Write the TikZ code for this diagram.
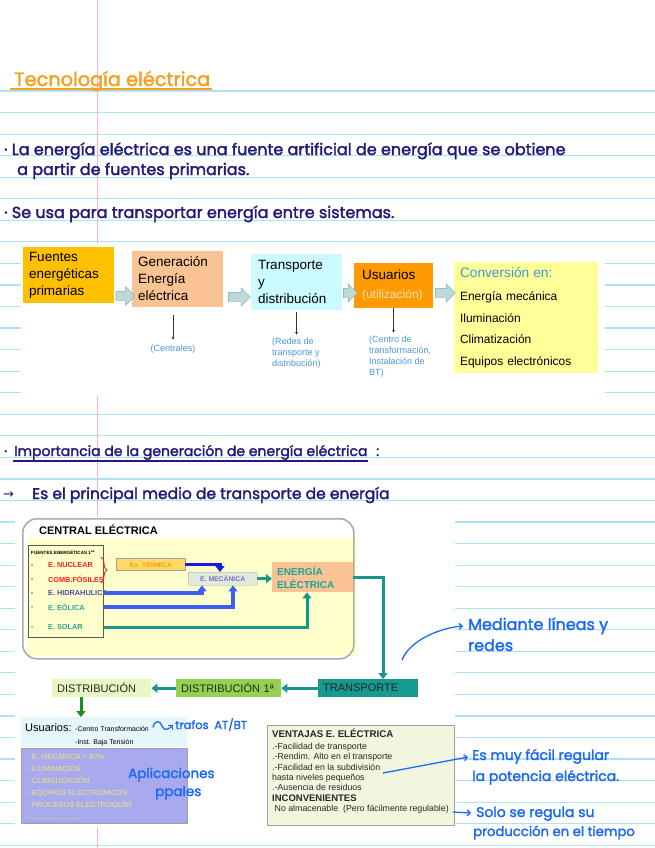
\documentclass[tikz,border=0pt]{standalone}
\usepackage{fontspec}
\setmainfont{Liberation Sans}
\newfontfamily\handfont{Poppins}[FakeBold=2]
\newfontfamily\symfont{DejaVu Sans}
\usepackage{tikz}
\usetikzlibrary{arrows.meta,calc,positioning,shapes.arrows,decorations.pathreplacing}
\definecolor{ink}{HTML}{221A78}
\definecolor{penblue}{HTML}{1C6AF2}
\definecolor{titleorange}{HTML}{F5A01E}
\definecolor{ruleblue}{HTML}{ADE1F8}
\definecolor{marginpink}{HTML}{F6B3C8}
\definecolor{amber}{HTML}{FFC000}
\definecolor{peach}{HTML}{FAC394}
\definecolor{paleaqua}{HTML}{CCFBFF}
\definecolor{usuorange}{HTML}{FF9A00}
\definecolor{utilcream}{HTML}{FDE3B8}
\definecolor{convyellow}{HTML}{FFFF99}
\definecolor{convblue}{HTML}{3C9AD0}
\definecolor{arrowfill}{HTML}{BCD9DC}
\definecolor{arrowgrey}{HTML}{8AA3A6}
\definecolor{noteblue}{HTML}{4A94DC}
\definecolor{centralgrey}{HTML}{ABABAB}
\definecolor{centralfill}{HTML}{FFFFCC}
\definecolor{nucred}{HTML}{FF1E1E}
\definecolor{hidrblue}{HTML}{4B4BAE}
\definecolor{eolteal}{HTML}{2BA598}
\definecolor{termfill}{HTML}{FFD966}
\definecolor{termtext}{HTML}{F0A020}
\definecolor{mecfill}{HTML}{E1EBDD}
\definecolor{mectext}{HTML}{7373C4}
\definecolor{energteal}{HTML}{1AA396}
\definecolor{termblue}{HTML}{1A1AE8}
\definecolor{hydroblue}{HTML}{3C5EF6}
\definecolor{flowteal}{HTML}{15978D}
\definecolor{transteal}{HTML}{16998E}
\definecolor{dist1green}{HTML}{93D150}
\definecolor{distgreen}{HTML}{E8F8C4}
\definecolor{downgreen}{HTML}{1E8C1E}
\definecolor{usucyan}{HTML}{E6F6FB}
\definecolor{lavender}{HTML}{A9A9F0}
\definecolor{appyellow}{HTML}{F0EA70}
\definecolor{ventfill}{HTML}{F3F6DF}
\definecolor{boxgrey}{HTML}{A0A0A0}

\begin{document}
\begin{tikzpicture}[x=1pt,y=-1pt,
    rule/.style={draw=ruleblue,line width=1.2pt},
    hand/.style={font=\handfont\fontsize{16}{18}\selectfont,text=ink,anchor=base west,inner sep=0pt},
    pen/.style={hand,font=\handfont\fontsize{14}{16}\selectfont,text=penblue},
    penline/.style={draw=penblue,line width=1.3pt,line cap=round,-{Straight Barb[length=3pt,width=6pt]}},
    flowbox/.style={anchor=north west,inner ysep=0pt,outer sep=0pt,align=left,font=\fontsize{13.5}{17}\selectfont},
    blockarr/.style={single arrow,draw=arrowgrey,fill=arrowfill,minimum width=0pt,inner xsep=0pt,inner ysep=4.5pt,single arrow head extend=4.5pt},
    note/.style={anchor=north west,inner sep=0pt,align=left,text=noteblue,font=\fontsize{9}{11}\selectfont},
    thinarr/.style={draw=black!80,line width=0.6pt,-{Latex[length=3pt,width=3pt]}},
    source/.style={anchor=west,inner sep=0pt,font=\bfseries\fontsize{7.3}{9}\selectfont},
    bluearr/.style={line width=3.3pt,-{Triangle[length=6pt,width=9pt]}},
    tealarr/.style={draw=flowteal,line width=3pt,-{Triangle[length=6pt,width=9pt]}},
    rowbox/.style={anchor=north west,minimum height=18pt,inner xsep=5pt,inner ysep=0pt,align=left,font=\fontsize{11}{13}\selectfont,text=black!85}]

  \useasboundingbox (0,0) rectangle (655,848);
  \fill[white] (0,0) rectangle (655,848);
  \foreach \i in {0,...,35}{
    \draw[rule] (0,91+21.55*\i) -- (655,91+21.55*\i);
  }
  \draw[marginpink,line width=1pt] (97,0) -- (97,848);
  \fill[white] (21,244) rectangle (605,396);
  \fill[white] (15,517) rectangle (455,827);

  % apuntes
  \node[hand,text=titleorange,font=\handfont\fontsize{19.3}{21}\selectfont] (title) at (14,86) {Tecnología eléctrica};
  \draw[titleorange,line width=1.1pt] ($(title.base west)+(-4,3)$) -- ($(title.base east)+(2,3)$);
  \node[hand] (intro1) at (4,155) {· La energía eléctrica es una fuente artificial de energía que se obtiene};
  \node[hand] (intro2) at (17,175) {a partir de fuentes primarias.};
  \node[hand] (uso) at (4,218) {· Se usa para transportar energía entre sistemas.};
  \node[hand,font=\handfont\fontsize{14}{16}\selectfont] (impdot) at (4,456) {·};
  \node[hand,font=\handfont\fontsize{14}{16}\selectfont] (imp) at (14,456) {Importancia de la generación de energía eléctrica};
  \node[hand,font=\handfont\fontsize{14}{16}\selectfont] (impcolon) at (376,456) {:};
  \draw[ink,line width=1.2pt] ($(imp.base west)+(-1,5)$) -- ($(imp.base east)+(0,5)$);
  \node[hand,font=\symfont\fontsize{13}{14}\selectfont] (medarrow) at (3,498) {→};
  \node[hand,font=\handfont\fontsize{15.5}{17}\selectfont] (medio) at (32,499) {Es el principal medio de transporte de energía};

  % esquema superior
  \node[flowbox,fill=amber,minimum width=91pt,minimum height=56pt,text width=79pt,inner xsep=6pt] (fuentes) at (23,247) {Fuentes\\energéticas\\primarias};
  \node[flowbox,fill=peach,minimum width=91pt,minimum height=56pt,text width=79pt,inner xsep=6pt] (gen) at (132,251) {Generación\\Energía\\eléctrica};
  \node[flowbox,fill=paleaqua,minimum width=91pt,minimum height=56pt,text width=77pt,inner xsep=7pt] (trans) at (251,254) {Transporte\\y\\distribución};
  \node[flowbox,fill=usuorange,minimum width=79pt,minimum height=45pt,text width=63pt,inner xsep=8pt] (usu) at (354,263) {Usuarios\\[2pt]{\color{utilcream}\fontsize{12}{14}\selectfont(utilización)}};
  \node[flowbox,fill=convyellow,minimum width=144pt,minimum height=111pt,text width=132pt,inner xsep=6pt,font=\fontsize{12}{21.5}\selectfont] (conv) at (454,262) {{\color{convblue}\fontsize{13.7}{16}\selectfont Conversión en:}\\[1.5pt]Energía mecánica\\Iluminación\\Climatización\\Equipos electrónicos};
  \node[blockarr,minimum height=19pt] (a1) at (123,296) {};
  \node[blockarr,minimum height=22pt] (a2) at (237,297) {};
  \node[blockarr,minimum height=14pt] (a3) at (348,293) {};
  \node[blockarr,minimum height=20pt] (a4) at (443,293) {};

  \node[note,anchor=north] (centrales) at (173,345) {(Centrales)};
  \node[note] (redes) at (272,338) {(Redes de\\transporte y\\distribución)};
  \node[note] (centro) at (369,336) {(Centro de\\transformación,\\Instalación de\\BT)};
  \draw[thinarr] ($(gen.south -| centrales.north)+(0,8)$) -- ($(centrales.north)+(0,-5)$);
  \draw[thinarr] ($(trans.south)+(0,2)$) -- ($(trans.south |- redes.north)+(0,-3)$);
  \draw[thinarr] (usu.south) -- ($(usu.south |- centro.north)+(0,-3)$);

  % central electrica
  \fill[centralfill] (27,538) rectangle (357,656);
  \node[draw=centralgrey,line width=1.6pt,rounded corners=14pt,minimum width=331pt,minimum height=140pt,anchor=north west,inner sep=0pt] (central) at (22,518) {};
  \node[anchor=west,inner sep=0pt,font=\bfseries\fontsize{11}{13}\selectfont] (centraltitle) at (39,530) {CENTRAL ELÉCTRICA};
  \node[draw=black!65,line width=0.9pt,minimum width=75pt,minimum height=92pt,anchor=north west,inner sep=0pt] (srcbox) at (28,545) {};
  \node[anchor=west,inner sep=0pt,font=\bfseries\fontsize{4.6}{5}\selectfont] (srctitle) at (31,552) {FUENTES ENERGÉTICAS 1\textsuperscript{as}};
  \foreach \n/\t/\y/\col in {nuc/E. NUCLEAR/565/nucred, comb/COMB.FÓSILES/579/nucred, hidr/E. HIDRAHULICA/593/hidrblue, eol/E. EÓLICA/607/eolteal, sol/E. SOLAR/627/eolteal}{
    \fill[\col] (32,\y) circle (0.8pt);
    \node[source,text=\col] (\n) at (48,\y) {\t};
  }
  \draw[nucred,line width=0.9pt,decorate,decoration={brace,amplitude=6pt}] (101,557) -- (101,583);
  \node[draw=boxgrey,fill=termfill,minimum width=69pt,minimum height=12pt,anchor=north west,inner sep=0pt,text=termtext,font=\bfseries\fontsize{6.5}{7}\selectfont] (term) at (116,558) {En. TÉRMICA};
  \node[draw=boxgrey,fill=mecfill,rounded corners=2pt,minimum width=69pt,minimum height=13pt,anchor=north west,inner sep=0pt,text=mectext,font=\bfseries\fontsize{6.8}{7}\selectfont] (mec) at (188,572) {E. MECÁNICA};
  \node[fill=peach,minimum height=30pt,anchor=north west,align=left,text width=71pt,inner xsep=5pt,inner ysep=0pt,text=energteal,font=\bfseries\fontsize{10}{13}\selectfont] (energ) at (272,562) {ENERGÍA\\ELÉCTRICA};

  \draw[bluearr,draw=termblue] (term.east) -| ($(mec.north west)+(32,0)$);
  \draw[bluearr,draw=hydroblue] (hidr -| srcbox.east) -| ($(mec.south west)+(14,0)$);
  \draw[bluearr,draw=hydroblue] (eol -| srcbox.east) -| ($(mec.south west)+(45,0)$);
  \draw[tealarr] (sol -| srcbox.east) -| ($(energ.south west)+(35,0)$);
  \draw[tealarr] (mec.east) -- (mec.east -| energ.west);

  % transporte y distribucion
  \node[rowbox,fill=transteal,text width=90pt] (transp) at (318,679) {TRANSPORTE};
  \node[rowbox,fill=dist1green,text width=95pt] (dist1) at (176,679) {DISTRIBUCIÓN 1ª};
  \node[rowbox,fill=distgreen,text width=89pt] (distr) at (52,679) {DISTRIBUCIÓN};
  \draw[tealarr] (energ.east) -| ($(transp.north west)+(65,0)$);
  \draw[tealarr] (transp.west) -- (dist1.east);
  \draw[tealarr] (dist1.west) -- (distr.east);

  \node[fill=usucyan,minimum width=166pt,minimum height=30pt,anchor=north west,inner sep=0pt] (usubg) at (21,717) {};
  \draw[draw=downgreen,line width=3pt,-{Triangle[length=6pt,width=9pt]}] ($(distr.south west)+(29,0)$) -- ($(usubg.north west)+(60,0)$);
  \node[anchor=base west,inner sep=0pt,font=\fontsize{11}{13}\selectfont] (usutxt) at (25,731) {Usuarios:};
  \node[anchor=base west,inner sep=0pt,font=\fontsize{7}{8}\selectfont] (ct) at (75,731) {-Centro Transformación};
  \node[anchor=base west,inner sep=0pt,font=\fontsize{7}{8}\selectfont] (bt) at (75,744) {-Inst. Baja Tensión};
  \node[draw=boxgrey,fill=lavender,line width=0.8pt,minimum width=166pt,minimum height=75pt,anchor=north west,inner sep=0pt] (apps) at (21,748) {};
  \node[anchor=north west,inner sep=0pt,align=left,text=appyellow,font=\fontsize{7.5}{12}\selectfont] (appstxt) at (25,753) {.- E. MECÁNICA > 60\%\\.- ILUMINACIÓN\\.- CLIMATIZACIÓN\\.- EQUIPOS ELECTRÓNICOS\\.- PROCESOS ELECTROQUÍM\\.-.........................};

  \node[draw=boxgrey,fill=ventfill,line width=0.8pt,minimum width=187pt,minimum height=100pt,anchor=north west,inner sep=0pt] (vent) at (267,725) {};
  \node[anchor=north west,inner sep=0pt,align=left,font=\fontsize{8.8}{10.4}\selectfont,text=black!85] (venttxt) at (272,729) {{\bfseries\fontsize{9.7}{12}\selectfont VENTAJAS E. ELÉCTRICA}\\[1pt].-Facilidad de transporte\\.-Rendim. Alto en el transporte\\.-Facilidad en la subdivisión\\hasta niveles pequeños\\.-Ausencia de residuos\\{\bfseries\fontsize{9.5}{10.4}\selectfont INCONVENIENTES}\\\ No almacenable\ \ (Pero fácilmente regulable)};

  % notas a boli
  \coordinate (medfrom) at (402,660);
  \node[pen,font=\handfont\fontsize{16}{18}\selectfont] (med1) at (468,630) {Mediante líneas y};
  \node[pen,font=\handfont\fontsize{16}{18}\selectfont] (med2) at (468,651) {redes};
  \draw[penline] (medfrom) .. controls (410,640) and (440,628) .. ($(med1.base west)+(-5,-4)$);
  \coordinate (sqfrom) at (153,727);
  \node[pen,font=\handfont\fontsize{11.5}{13}\selectfont] (trafos) at (175,729) {trafos\enspace AT/BT};
  \draw[penline] (sqfrom) .. controls (155,720) and (160,720) .. (162,726) .. controls (164,731) and (168,730) .. ($(trafos.base west)+(-2,-4)$);
  \node[pen,font=\handfont\fontsize{13.5}{15}\selectfont] (apl1) at (128,778) {Aplicaciones};
  \node[pen,font=\handfont\fontsize{13.5}{15}\selectfont] (apl2) at (155,796) {ppales};
  \coordinate (subd) at (383,773);
  \node[pen] (easy1) at (472,760) {Es muy fácil regular};
  \node[pen] (easy2) at (472,781) {la potencia eléctrica.};
  \draw[penline] (subd) -- ($(easy1.base west)+(-4,-3)$);
  \coordinate (noalm) at (453,812);
  \node[pen] (solo1) at (476,817) {Solo se regula su};
  \node[pen,font=\handfont\fontsize{13.2}{15}\selectfont] (solo2) at (473,836) {producción en el tiempo};
  \draw[penline] (noalm) -- ($(solo1.base west)+(-5,-4)$);
\end{tikzpicture}
\end{document}
